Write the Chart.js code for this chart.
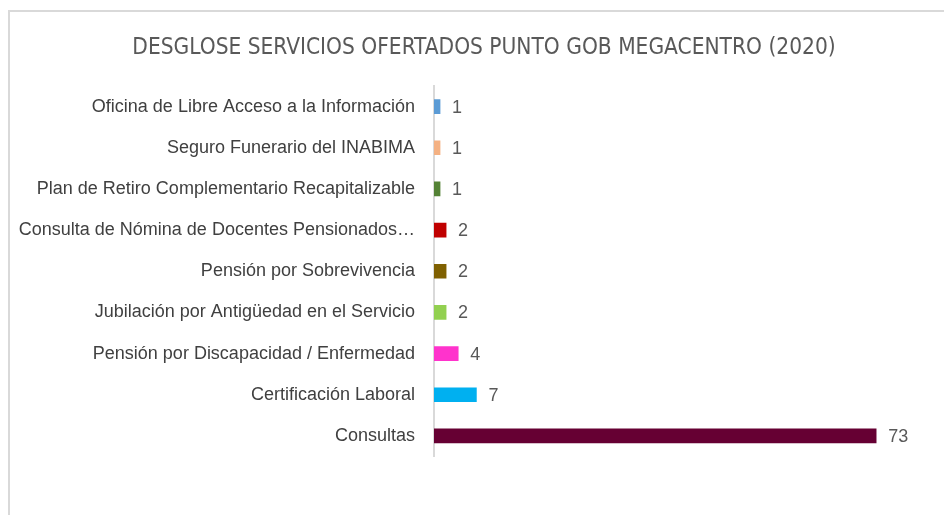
<!DOCTYPE html>
<html>
<head>
<meta charset="utf-8">
<script src="https://cdn.jsdelivr.net/npm/chart.js@4/dist/chart.umd.min.js"></script>
<style>
  html, body { margin: 0; padding: 0; background: #fff; overflow: hidden; }
  #frame { position: absolute; left: 8px; top: 10px; width: 1000px; height: 600px; border: 2px solid #d9d9d9; }
  #wrap { position: absolute; left: 0; top: 0; width: 944px; height: 515px; }
</style>
</head>
<body>
<div id="frame"></div>
<div id="wrap"><canvas id="chart"></canvas></div>
<script>
// data, top to bottom
const servicios = [
  'Oficina de Libre Acceso a la Información',
  'Seguro Funerario del INABIMA',
  'Plan de Retiro Complementario Recapitalizable',
  'Consulta de Nómina de Docentes Pensionados…',
  'Pensión por Sobrevivencia',
  'Jubilación por Antigüedad en el Servicio',
  'Pensión por Discapacidad / Enfermedad',
  'Certificación Laboral',
  'Consultas'
];
const cantidades = [1, 1, 1, 2, 2, 2, 4, 7, 73];
const colores = ['#5B9BD5', '#F4B183', '#548235', '#C00000', '#7F6000', '#92D050', '#FF33CC', '#00B0F0', '#660033'];

// numbers next to each bar
const valueLabels = {
  id: 'valueLabels',
  afterDatasetsDraw(chart) {
    const ctx = chart.ctx;
    const meta = chart.getDatasetMeta(0);
    ctx.save();
    ctx.font = '18px "Liberation Sans", Arial, sans-serif';
    ctx.fillStyle = '#595959';
    ctx.textAlign = 'left';
    ctx.textBaseline = 'middle';
    meta.data.forEach((bar, i) => {
      ctx.fillText(String(cantidades[i]), bar.x + 12, bar.y + 1);
    });
    ctx.restore();
  }
};

new Chart(document.getElementById('chart'), {
  type: 'bar',
  data: {
    labels: servicios,
    datasets: [{
      data: cantidades,
      backgroundColor: colores,
      barThickness: 14
    }]
  },
  options: {
    indexAxis: 'y',
    responsive: true,
    maintainAspectRatio: false,
    animation: false,
    // negative right padding just re-centres the title over the frame
    layout: { padding: { left: 10, right: -14, top: 0, bottom: 58.5 } },
    scales: {
      x: { display: false, min: 0, max: 84.2 },
      y: {
        grid: { display: false },
        border: { display: true, color: '#d9d9d9', width: 2 },
        ticks: {
          padding: 11,
          color: '#404040',
          font: { family: '"Liberation Sans", Arial, sans-serif', size: 18 }
        },
        afterFit(scale) { scale.width = 424; }
      }
    },
    plugins: {
      legend: { display: false },
      tooltip: { enabled: false },
      title: {
        display: true,
        text: 'DESGLOSE SERVICIOS OFERTADOS PUNTO GOB MEGACENTRO (2020)',
        color: '#595959',
        font: { family: '"DejaVu Sans Condensed", sans-serif', size: 22.5, weight: 'normal' },
        padding: { top: 35, bottom: 24 }
      }
    }
  },
  plugins: [valueLabels]
});
</script>
</body>
</html>
